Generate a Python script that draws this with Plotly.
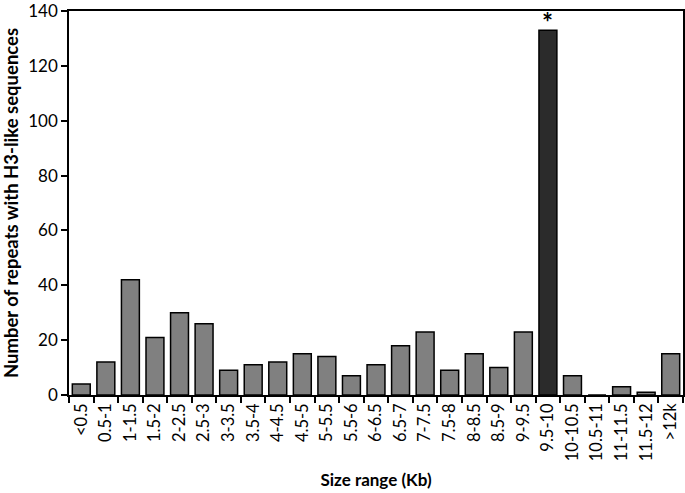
import plotly.graph_objects as go

categories = ["<0.5", "0.5-1", "1-1.5", "1.5-2", "2-2.5", "2.5-3", "3-3.5", "3.5-4",
              "4-4.5", "4.5-5", "5-5.5", "5.5-6", "6-6.5", "6.5-7", "7-7.5", "7.5-8",
              "8-8.5", "8.5-9", "9-9.5", "9.5-10", "10-10.5", "10.5-11", "11-11.5",
              "11.5-12", ">12k"]
counts = [4, 12, 42, 21, 30, 26, 9, 11, 12, 15, 14, 7, 11, 18, 23, 9, 15, 10, 23,
          133, 7, 0, 3, 1, 15]
highlight = "9.5-10"

colors = ["#2b2b2b" if c == highlight else "#808080" for c in categories]

fig = go.Figure(go.Bar(
    x=categories, y=counts,
    marker=dict(color=colors, line=dict(color="#000000", width=1.5)),
))

fig.add_annotation(x=highlight, y=counts[categories.index(highlight)], text="<b>*</b>",
                   showarrow=False, yanchor="bottom", yshift=-10,
                   font=dict(size=26, color="#000000", family="Lato, sans-serif"))

font_family = "Lato, 'Open Sans', sans-serif"
fig.update_layout(
    width=685, height=493,
    margin=dict(l=69, r=2, t=11, b=98),
    plot_bgcolor="white", paper_bgcolor="white",
    bargap=0.27,
    showlegend=False,
    font=dict(family=font_family, size=16, color="#000000"),
)
fig.update_xaxes(
    type="category", tickangle=-90, tickson="boundaries", automargin=False,
    ticks="outside", ticklen=6, tickwidth=1.5, tickcolor="#000",
    showline=True, linecolor="#000", linewidth=1.5, mirror=True,
    tickfont=dict(size=16.5),
    title=dict(text="<b>Size range (Kb)</b>", font=dict(size=17), standoff=14),
)
fig.update_yaxes(
    range=[0, 140], dtick=20, showgrid=False, automargin=False,
    ticks="outside", ticklen=6, tickwidth=1.5, tickcolor="#000",
    showline=True, linecolor="#000", linewidth=1.5, mirror=True,
    tickfont=dict(size=17), zeroline=False, ticklabeloverflow="allow",
    title=dict(text="<b>Number of repeats with H3-like sequences</b>", font=dict(size=18.5), standoff=8),
)

fig.write_html("out.html", config={"displayModeBar": False},
               post_script="document.body.style.margin='0';document.body.style.overflow='hidden';")
